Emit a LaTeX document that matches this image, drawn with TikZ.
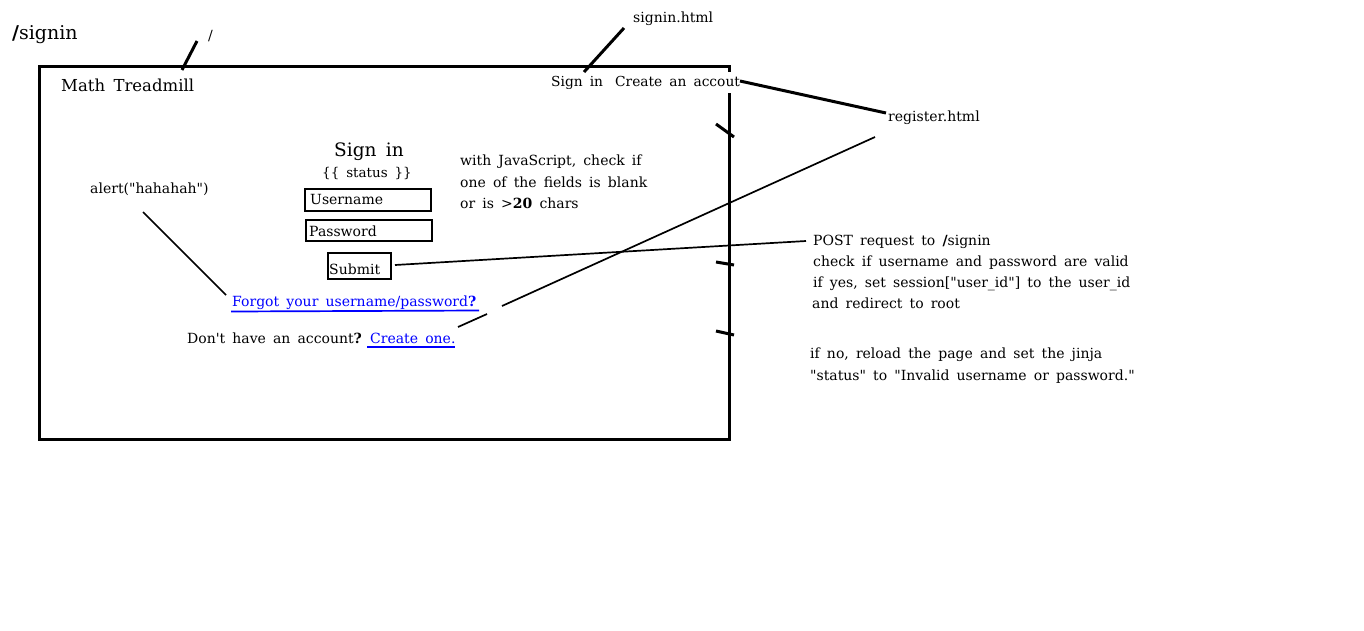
\documentclass[tikz,border=0pt]{standalone}
\usepackage{fontspec}
\setmainfont{DejaVu Serif}[WordSpace=1.6,Ligatures=TeXOff]
\newcommand{\fsz}[1]{\fontsize{#1}{#1}\selectfont}
\begin{document}
\begin{tikzpicture}[x=1pt,y=-1pt,
  txt/.style={anchor=base west,inner sep=0pt,font=\fsz{14}},
  thick line/.style={line width=3pt},
  thin line/.style={line width=1.7pt},
  field/.style={draw,line width=2pt},
  link/.style={txt,text={rgb,255:red,0;green,0;blue,255}},
  linkline/.style={draw={rgb,255:red,0;green,0;blue,255},line width=1.7pt}]
\useasboundingbox (0,0) rectangle (1364,630);
% page frame
\draw[line width=3pt] (39,66) rectangle (729,439);
% tick marks on the right edge
\draw[thick line] (716,124) -- (734,137);
\draw[thick line] (716,262) -- (734,265);
\draw[thick line] (716,331) -- (734,335);
% route labels
\node[txt,font=\fsz{19}] (route) at (12,39) {\textbf{/}signin};
\node[txt] (slash) at (208,40) {/};
\coordinate (slashline) at (197,41);
\node[txt,font=\fsz{16.5}] (brand) at (61,91) {Math Treadmill};
\draw[thick line] (182,70) -- (slashline);
% nav
\node[anchor=base west,fill=white,inner xsep=1pt,inner ysep=4pt,font=\fsz{13.8}] (nav) at (550,86) {Sign in\hspace{5pt} Create an accout};
\node[txt] (signinhtml) at (633,22) {signin.html};
\coordinate (navsign) at (584,72);
\draw[thick line] (navsign) -- (624,28);
\node[txt] (reghtml) at (888,121) {register.html};
\coordinate (regtip) at (886,113);
\draw[thick line] (740,81) -- (regtip);
% form
\node[anchor=base,inner sep=0pt,font=\fsz{18.5}] (title) at (369,156) {Sign in};
\node[anchor=base,inner sep=0pt,font=\fsz{13.5}] (status) at (367,177) {\{\{ status \}\}};
\draw[field] (305,189) rectangle (431,211);
\node[txt] (user) at (310,204) {Username};
\draw[field] (306,220) rectangle (432,241);
\node[txt] (pass) at (309,236) {Password};
\draw[field] (328,253) rectangle (391,279);
\node[txt] (submit) at (329,274) {Submit};
\coordinate (submitr) at (395,265);
% JS note
\node[txt] (js1) at (460,165) {with JavaScript, check if};
\node[txt] (js2) at (460,187) {one of the fields is blank};
\node[txt] (js3) at (460,208) {or is >\textbf{20} chars};
% alert
\node[txt] (alert) at (90,193) {alert("hahahah")};
\coordinate (alertl) at (143,212);
\coordinate (forgotl) at (226,295);
\draw[thin line] (alertl) -- (forgotl);
% links
\node[link] (forgot) at (232,306) {Forgot your username/password\textbf{?}};
\draw[linkline] (231,311.5) -- (479,310.5);
\node[txt] (dont) at (187,343) {Don't have an account\textbf{?}};
\node[link] (create) at (370,343) {Create one.};
\draw[linkline] (367,347) -- (455,347);
% register to create line (with gap)
\coordinate (regl) at (875,137);
\coordinate (gapa) at (502,306);
\coordinate (gapb) at (487,314);
\coordinate (createl) at (458,327);
\draw[thin line] (regl) -- (gapa);
\draw[thin line] (gapb) -- (createl);
% POST note
\node[txt] (p1) at (813,245) {POST request to \textbf{/}signin};
\node[txt] (p2) at (813,266) {check if username and password are valid};
\node[txt] (p3) at (813,287) {if yes, set session["user\_id"] to the user\_id};
\node[txt] (p4) at (812,308) {and redirect to root};
\draw[thin line] (submitr) -- (806,241);
\node[txt] (n1) at (810,358) {if no, reload the page and set the jinja};
\node[txt] (n2) at (810,380) {"status" to "Invalid username or password."};
\end{tikzpicture}
\end{document}
